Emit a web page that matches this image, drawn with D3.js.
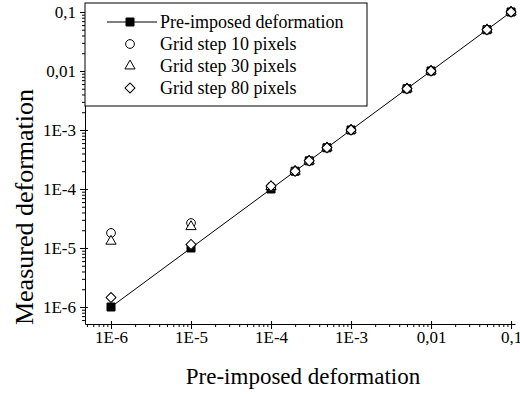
<!DOCTYPE html>
<html><head><meta charset="utf-8">
<script src="https://cdn.jsdelivr.net/npm/d3@7"></script>
<style>body{margin:0;background:#fff}svg{display:block}</style>
</head><body>
<svg id="c" width="520" height="394"></svg>
<script>
const xValues = [1e-6, 1e-5, 1e-4, 2e-4, 3e-4, 5e-4, 1e-3, 5e-3, 1e-2, 5e-2, 1e-1];
const preImposed = [1e-6, 1e-5, 1e-4, 2e-4, 3e-4, 5e-4, 1e-3, 5e-3, 1e-2, 5e-2, 1e-1];
const grid10 = [1.8e-5, 2.65e-5, 1.1e-4, 2e-4, 3e-4, 5e-4, 1e-3, 5e-3, 1e-2, 5e-2, 1e-1];
const grid30 = [1.3e-5, 2.3e-5, 1.1e-4, 2e-4, 3e-4, 5e-4, 1e-3, 5e-3, 1e-2, 5e-2, 1e-1];
const grid80 = [1.45e-6, 1.15e-5, 1.12e-4, 2e-4, 3e-4, 5e-4, 1e-3, 5e-3, 1e-2, 5e-2, 1e-1];
const tickValues = [1e-6, 1e-5, 1e-4, 1e-3, 1e-2, 1e-1];
const tickLabels = ["1E-6", "1E-5", "1E-4", "1E-3", "0,01", "0,1"];
const legendLabels = ["Pre-imposed deformation", "Grid step 10 pixels", "Grid step 30 pixels", "Grid step 80 pixels"];

const FONT = "'Liberation Serif', 'Times New Roman', Times, serif";
const svg = d3.select("#c").attr("font-family", FONT);
const L = 85, R = 515, T = 3, B = 324;
const x = d3.scaleLog().domain([4.73e-7, 0.112]).range([L, R]);
const y = d3.scaleLog().domain([5.15e-7, 0.142]).range([B, T]);

// minor ticks
const minor = [];
for (let e = -7; e <= -1; e++) for (let m = 2; m <= 9; m++) minor.push(m * Math.pow(10, e));
const xMinor = minor.filter(v => v >= x.domain()[0] && v <= x.domain()[1]);
const yMinor = minor.filter(v => v >= y.domain()[0] && v <= y.domain()[1]);
const fmt = v => tickLabels[tickValues.indexOf(v)];

const gx = svg.append("g").attr("transform", `translate(0,${B})`);
gx.call(d3.axisBottom(x).tickValues(xMinor).tickSize(3).tickFormat(""));
gx.call(g => g.select(".domain").remove());
const gx2 = svg.append("g").attr("transform", `translate(0,${B})`);
gx2.call(d3.axisBottom(x).tickValues(tickValues).tickSize(5).tickSizeOuter(0).tickPadding(2).tickFormat(fmt));
gx2.selectAll(".tick line").attr("y1", -3);

const gy = svg.append("g").attr("transform", `translate(${L},0)`);
gy.call(d3.axisLeft(y).tickValues(yMinor).tickSize(3).tickFormat(""));
gy.call(g => g.select(".domain").remove());
const gy2 = svg.append("g").attr("transform", `translate(${L},0)`);
gy2.call(d3.axisLeft(y).tickValues(tickValues).tickSize(5).tickSizeOuter(0).tickPadding(4).tickFormat(fmt));
gy2.selectAll(".tick line").attr("x1", 3);
svg.selectAll("g").attr("font-family", FONT);
svg.selectAll(".tick text").style("font-family", FONT).style("font-size", "17px").attr("fill", "#000");
svg.selectAll(".domain").attr("stroke", "#000");
svg.selectAll(".tick line").attr("stroke", "#000");

// axis titles
svg.append("text").attr("x", 303).attr("y", 384).attr("text-anchor", "middle")
  .style("font-family", FONT).style("font-size", "23px").text("Pre-imposed deformation");
svg.append("text").attr("transform", "translate(33,207) rotate(-90)").attr("text-anchor", "middle")
  .style("font-family", FONT).style("font-size", "26px").text("Measured deformation");

// line
const pts = xValues.map((v, i) => [v, preImposed[i]]);
svg.append("path").datum(pts).attr("fill", "none").attr("stroke", "#000").attr("stroke-width", 1)
  .attr("d", d3.line().x(d => x(d[0])).y(d => y(d[1])));

const sq = d3.symbol().type(d3.symbolSquare).size(64);
const ci = d3.symbol().type(d3.symbolCircle).size(60);
const tr = d3.symbol().type(d3.symbolTriangle).size(45);
const di = d3.symbol().type(d3.symbolSquare).size(50);

function draw(vals, sym, fill, rot) {
  svg.append("g").selectAll("path").data(xValues.map((v, i) => [v, vals[i]])).join("path")
    .attr("d", sym)
    .attr("transform", d => `translate(${x(d[0])},${y(d[1])})` + (rot ? " rotate(45)" : ""))
    .attr("fill", fill).attr("stroke", "#000").attr("stroke-width", 1);
}
draw(preImposed, sq, "#000", false);
draw(grid10, ci, "#fff", false);
draw(grid30, tr, "#fff", false);
draw(grid80, di, "#fff", true);

// legend
const lg = svg.append("g");
lg.append("rect").attr("x", L).attr("y", T).attr("width", 282).attr("height", 103)
  .attr("fill", "#fff").attr("stroke", "#000").attr("stroke-width", 1);
const rows = [22, 44, 66, 88];
lg.append("line").attr("x1", 107).attr("x2", 157).attr("y1", rows[0]).attr("y2", rows[0]).attr("stroke", "#000");
const legSyms = [[sq, "#000", false], [ci, "#fff", false], [tr, "#fff", false], [di, "#fff", true]];
legSyms.forEach((s, i) => {
  lg.append("path").attr("d", s[0]).attr("transform", `translate(130,${rows[i]})` + (s[2] ? " rotate(45)" : ""))
    .attr("fill", s[1]).attr("stroke", "#000");
  lg.append("text").attr("x", 160).attr("y", rows[i]).attr("dy", "0.35em")
    .style("font-family", FONT).style("font-size", "18px").text(legendLabels[i]);
});
</script>
</body></html>
